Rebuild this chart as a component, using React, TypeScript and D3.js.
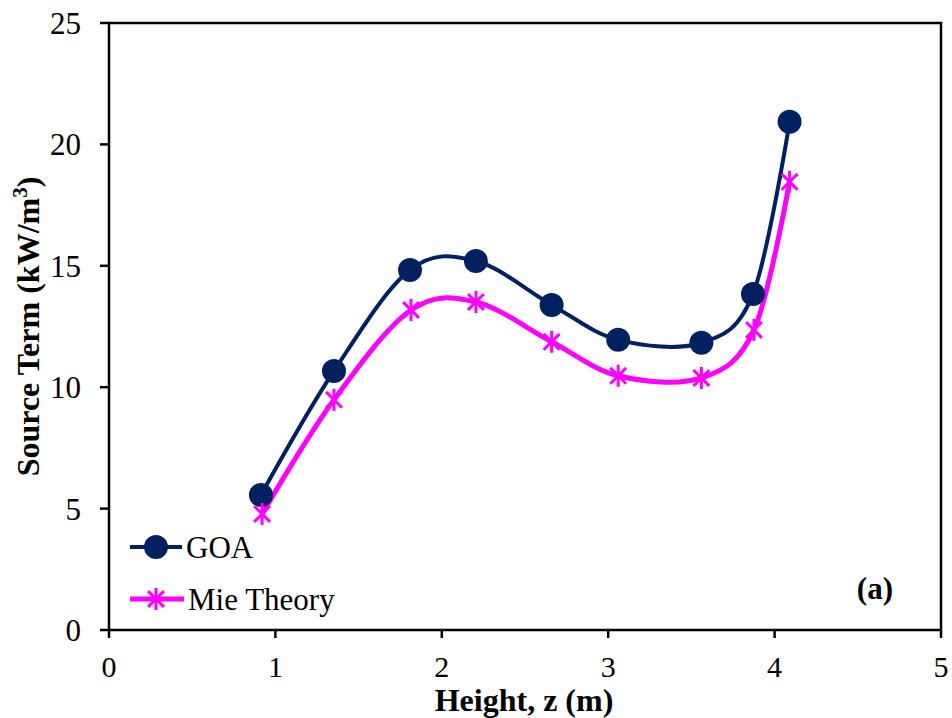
import React from "react";
import * as d3 from "d3";

const heights = [0.913, 1.352, 1.809, 2.205, 2.66, 3.06, 3.56, 3.87, 4.09];
const goaValues = [5.56, 10.67, 14.83, 15.2, 13.39, 11.95, 11.83, 13.84, 20.93];
const mieHeights = [0.92, 1.352, 1.815, 2.205, 2.66, 3.06, 3.56, 3.876, 4.09];
const mieValues = [4.78, 9.48, 13.18, 13.51, 11.87, 10.47, 10.38, 12.36, 18.46];
const xTicks = [0, 1, 2, 3, 4, 5];
const yTicks = [0, 5, 10, 15, 20, 25];

const W = 952, H = 718;
const L = 109, R = 941, T = 23, B = 630;
const FONT = "'Liberation Serif', 'Times New Roman', serif";
const NAVY = "#002060";
const MAG = "#FF00FF";

function Star({ x, y, s }: { x: number; y: number; s: number }) {
  const d = s * 0.72;
  return (
    <g stroke={MAG} strokeWidth={3}>
      <line x1={x} y1={y - s} x2={x} y2={y + s} />
      <line x1={x - d} y1={y - d} x2={x + d} y2={y + d} />
      <line x1={x - d} y1={y + d} x2={x + d} y2={y - d} />
    </g>
  );
}

export default function App() {
  const x = d3.scaleLinear().domain([0, 5]).range([L, R]);
  const y = d3.scaleLinear().domain([0, 25]).range([B, T]);
  const line = d3
    .line<[number, number]>()
    .x((d) => x(d[0]))
    .y((d) => y(d[1]))
    .curve(d3.curveCardinal.tension(0));
  const goa: [number, number][] = heights.map((h, i) => [h, goaValues[i]]);
  const mie: [number, number][] = mieHeights.map((h, i) => [h, mieValues[i]]);

  return (
    <svg width={W} height={H} style={{ position: "absolute", left: 0, top: 0 }}>
      <rect x={0} y={0} width={W} height={H} fill="white" />
      <rect x={L} y={T} width={R - L} height={B - T} fill="none" stroke="black" strokeWidth={2.5} />
      {xTicks.map((t) => (
        <g key={"x" + t}>
          <line x1={x(t)} x2={x(t)} y1={B} y2={B + 8} stroke="black" strokeWidth={2.5} />
          <text x={x(t)} y={B + 47} textAnchor="middle" fontFamily={FONT} fontSize={30}>
            {t}
          </text>
        </g>
      ))}
      {yTicks.map((t) => (
        <g key={"y" + t}>
          <line x1={L - 9} x2={L} y1={y(t)} y2={y(t)} stroke="black" strokeWidth={2.5} />
          <text x={L - 28} y={y(t) + 11} textAnchor="end" fontFamily={FONT} fontSize={31}>
            {t}
          </text>
        </g>
      ))}
      <text x={524} y={711} textAnchor="middle" fontFamily={FONT} fontSize={32} fontWeight="bold">
        Height, z (m)
      </text>
      <text
        transform={`translate(39, ${(T + B) / 2}) rotate(-90)`}
        textAnchor="middle"
        fontFamily={FONT}
        fontSize={32}
        fontWeight="bold"
      >
        Source Term (kW/m<tspan dy={-12} fontSize={21}>3</tspan>
        <tspan dy={12}>)</tspan>
      </text>

      <path d={line(goa) || ""} fill="none" stroke={NAVY} strokeWidth={4} />
      <path d={line(mie) || ""} fill="none" stroke={MAG} strokeWidth={5} />
      {goa.map((d, i) => (
        <circle key={"g" + i} cx={x(d[0])} cy={y(d[1])} r={12} fill={NAVY} />
      ))}
      {mie.map((d, i) => (
        <Star key={"m" + i} x={x(d[0])} y={y(d[1])} s={11} />
      ))}

      <line x1={130} x2={182} y1={547} y2={547} stroke={NAVY} strokeWidth={4} />
      <circle cx={156} cy={547} r={12} fill={NAVY} />
      <text x={186} y={558} fontFamily={FONT} fontSize={31}>GOA</text>
      <line x1={130} x2={184} y1={599} y2={599} stroke={MAG} strokeWidth={5} />
      <Star x={156} y={599} s={11} />
      <text x={188} y={610} fontFamily={FONT} fontSize={31}>Mie Theory</text>

      <text x={893} y={599} textAnchor="end" fontFamily={FONT} fontSize={31} fontWeight="bold">(a)</text>
    </svg>
  );
}
